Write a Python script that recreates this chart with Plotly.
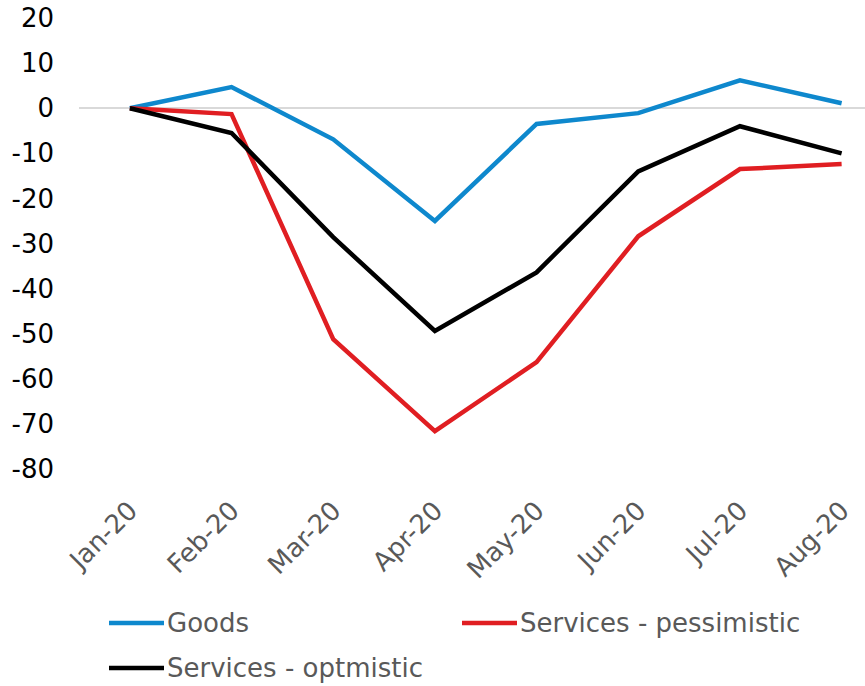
import plotly.graph_objects as go

months = ["Jan-20", "Feb-20", "Mar-20", "Apr-20", "May-20", "Jun-20", "Jul-20", "Aug-20"]
goods = [0, 4.7, -6.9, -25.0, -3.5, -1.1, 6.2, 1.1]
services_pess = [0, -1.3, -51.2, -71.6, -56.3, -28.4, -13.5, -12.4]
services_opt = [0, -5.5, -28.6, -49.4, -36.4, -14.0, -4.0, -10.0]
y_ticks = [20, 10, 0, -10, -20, -30, -40, -50, -60, -70, -80]

series_names = ["Goods", "Services - pessimistic", "Services - optmistic"]
series_colors = ["#0E88CD", "#E01E22", "#000000"]
series_values = [goods, services_pess, services_opt]

FONT = "DejaVu Sans"
W, H = 865, 686
ML, MR, MT, MB = 79, 0, 18, 217
PW, PH = W - ML - MR, H - MT - MB

fig = go.Figure()
for name, color, vals in zip(series_names, series_colors, series_values):
    fig.add_trace(go.Scatter(x=months, y=vals, mode="lines", name=name,
                             line=dict(color=color, width=4.5), showlegend=False))

# manual legend (pixel positions converted to paper coords)
def px_x(px):
    return (px - ML) / PW

def px_y(py):
    return (H - MB - py) / PH

legend_pos = [(109, 623), (462, 623), (109, 668)]
shapes, annotations = [], []
for (lx, ly), name, color in zip(legend_pos, series_names, series_colors):
    shapes.append(dict(type="line", xref="paper", yref="paper",
                       x0=px_x(lx), x1=px_x(lx + 55), y0=px_y(ly), y1=px_y(ly),
                       line=dict(color=color, width=4.5)))
    annotations.append(dict(xref="paper", yref="paper", x=px_x(lx + 57), y=px_y(ly),
                            xanchor="left", yanchor="middle", showarrow=False, text=name,
                            borderpad=0,
                            font=dict(family=FONT, size=26, color="#595959")))

fig.update_layout(
    width=W, height=H,
    margin=dict(l=ML, r=MR, t=MT, b=MB),
    plot_bgcolor="white", paper_bgcolor="white",
    showlegend=False,
    shapes=shapes, annotations=annotations,
    xaxis=dict(
        type="category", categoryorder="array", categoryarray=months,
        range=[-0.5, 7.23], showgrid=False, showline=False, zeroline=False,
        tickangle=-45, tickfont=dict(family=FONT, size=26, color="#595959"),
        ticks="", ticklabelstandoff=20, automargin=False,
    ),
    yaxis=dict(
        range=[-80, 20], tickvals=y_ticks, ticktext=[str(v) for v in y_ticks],
        showgrid=False, showline=False, zeroline=True, zerolinecolor="#D9D9D9", zerolinewidth=2,
        tickfont=dict(family=FONT, size=26, color="#000000"), ticks="", ticklabelstandoff=24,
        automargin=False,
    ),
)
fig.write_html("out.html")
